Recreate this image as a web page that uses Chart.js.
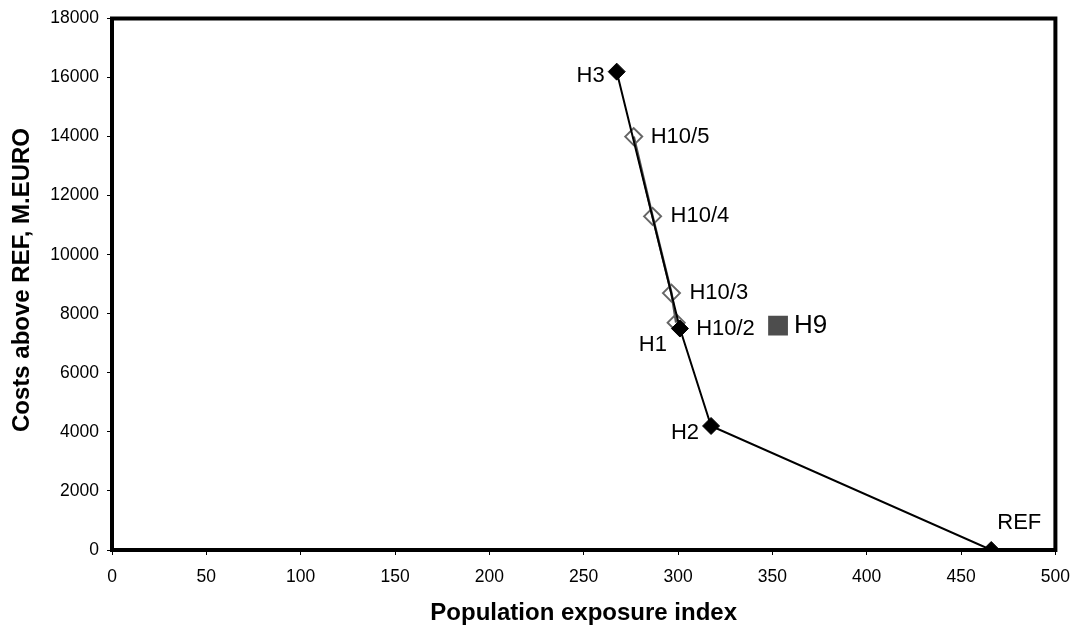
<!DOCTYPE html>
<html>
<head>
<meta charset="utf-8">
<script src="https://cdn.jsdelivr.net/npm/chart.js"></script>
<style>
html,body{margin:0;padding:0;background:#fff;}
#wrap{width:1082px;height:631px;position:relative;}
</style>
</head>
<body>
<div id="wrap"><canvas id="c"></canvas></div>
<script>
// ---- data ----
const frontierLabels = ['REF', 'H2', 'H1', 'H3'];
const frontierX = [466, 317.5, 301, 267.5];
const frontierY = [0, 4200, 7500, 16200];

const h10Labels = ['H10/2', 'H10/3', 'H10/4', 'H10/5'];
const h10X = [299, 296.5, 286.5, 276.5];
const h10Y = [7700, 8700, 11300, 14000];

const h9Labels = ['H9'];
const h9X = [353];
const h9Y = [7600];

const xTickValues = [0, 50, 100, 150, 200, 250, 300, 350, 400, 450, 500];
const yTickValues = [0, 2000, 4000, 6000, 8000, 10000, 12000, 14000, 16000, 18000];

const xTitle = 'Population exposure index';
const yTitle = 'Costs above REF, M.EURO';

// ---- label styling (offsets in px from the marker) ----
const labelStyle = {
  'REF':   {dx: 6,   dy: -27, align: 'left',  size: 22},
  'H2':    {dx: -12, dy: 7,   align: 'right', size: 22},
  'H1':    {dx: -13, dy: 16,  align: 'right', size: 22},
  'H3':    {dx: -12, dy: 4,   align: 'right', size: 22},
  'H10/2': {dx: 20,  dy: 6,   align: 'left',  size: 22},
  'H10/3': {dx: 18,  dy: 0,   align: 'left',  size: 22},
  'H10/4': {dx: 18,  dy: 0,   align: 'left',  size: 22},
  'H10/5': {dx: 17,  dy: 0,   align: 'left',  size: 22},
  'H9':    {dx: 16,  dy: 0,   align: 'left',  size: 26}
};

const FONT = "'Liberation Sans', Arial, sans-serif";

const toPts = (xs, ys) => xs.map((x, i) => ({x: x, y: ys[i]}));

const labelsPlugin = {
  id: 'labelsPlugin',
  beforeDatasetsDraw(chart) {
    const ctx = chart.ctx;
    const a = chart.chartArea;
    ctx.save();
    ctx.strokeStyle = '#000';
    ctx.lineWidth = 4;
    ctx.strokeRect(a.left, a.top, a.right - a.left, a.bottom - a.top);
    ctx.restore();
  },
  afterDraw(chart) {
    const ctx = chart.ctx;
    const a = chart.chartArea;
    const groups = [frontierLabels, h10Labels, h9Labels];
    ctx.save();
    ctx.fillStyle = '#000';
    ctx.textBaseline = 'middle';
    groups.forEach((labs, di) => {
      const meta = chart.getDatasetMeta(di);
      meta.data.forEach((el, i) => {
        const st = labelStyle[labs[i]];
        ctx.font = st.size + 'px ' + FONT;
        ctx.textAlign = st.align;
        ctx.fillText(labs[i], el.x + st.dx, el.y + st.dy);
      });
    });
    // axis titles
    ctx.font = 'bold 24px ' + FONT;
    ctx.textAlign = 'center';
    ctx.fillText(xTitle, (a.left + a.right) / 2, 613);
    ctx.translate(22, 280);
    ctx.rotate(-Math.PI / 2);
    ctx.fillText(yTitle, 0, 0);
    ctx.restore();
  }
};

new Chart(document.getElementById('c'), {
  type: 'scatter',
  data: {
    datasets: [
      {
        label: 'frontier',
        data: toPts(frontierX, frontierY),
        showLine: true,
        borderColor: '#000',
        borderWidth: 2,
        pointStyle: 'rectRot',
        pointRadius: 8.5,
        pointBackgroundColor: '#000',
        pointBorderColor: '#000',
        pointBorderWidth: 1
      },
      {
        label: 'H10',
        data: toPts(h10X, h10Y),
        showLine: true,
        borderColor: '#555',
        borderWidth: 2.5,
        pointStyle: 'rectRot',
        pointRadius: 8.5,
        pointBackgroundColor: 'rgba(255,255,255,0)',
        pointBorderColor: '#666',
        pointBorderWidth: 2
      },
      {
        label: 'H9',
        data: toPts(h9X, h9Y),
        showLine: false,
        pointStyle: 'rect',
        pointRadius: 14,
        pointBackgroundColor: '#4d4d4d',
        pointBorderColor: '#4d4d4d',
        pointBorderWidth: 0
      }
    ]
  },
  options: {
    responsive: true,
    maintainAspectRatio: false,
    animation: false,
    events: [],
    layout: {padding: {top: 16, right: 23, left: 0, bottom: 0}},
    plugins: {legend: {display: false}, tooltip: {enabled: false}, title: {display: false}},
    scales: {
      x: {
        type: 'linear',
        min: 0, max: 500,
        afterBuildTicks: s => { s.ticks = xTickValues.map(v => ({value: v})); },
        afterFit: s => { s.height = 81; },
        grid: {drawOnChartArea: false, drawTicks: true, tickLength: 5, color: '#000', lineWidth: 1},
        border: {display: false},
        ticks: {color: '#000', padding: 12, maxRotation: 0, font: {family: FONT, size: 17.5},
                callback: v => String(v)}
      },
      y: {
        type: 'linear',
        min: 0, max: 18000,
        afterBuildTicks: s => { s.ticks = yTickValues.map(v => ({value: v})); },
        afterFit: s => { s.width = 112; },
        grid: {drawOnChartArea: false, drawTicks: true, tickLength: 5, color: '#000', lineWidth: 1},
        border: {display: false},
        ticks: {color: '#000', padding: 8, font: {family: FONT, size: 17.5},
                callback: v => String(v)}
      }
    }
  },
  plugins: [labelsPlugin]
});
</script>
</body>
</html>
